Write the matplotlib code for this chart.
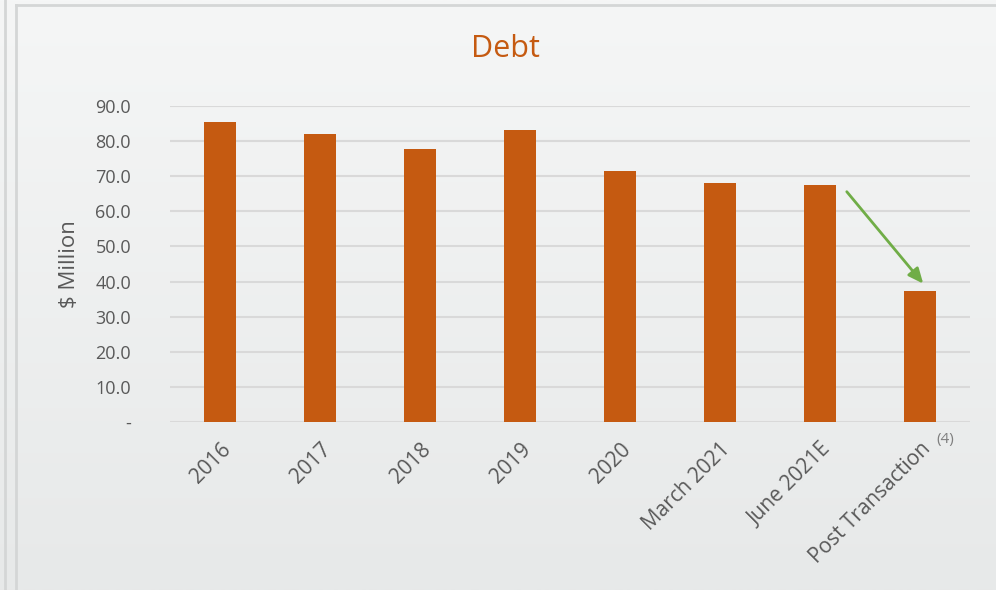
import numpy as np
import matplotlib.pyplot as plt
from matplotlib.lines import Line2D
from matplotlib.colors import LinearSegmentedColormap

categories = ['2016', '2017', '2018', '2019', '2020', 'March 2021', 'June 2021E', 'Post Transaction']
debt = [85.5, 82.0, 77.8, 83.2, 71.5, 68.1, 67.5, 37.3]
yticks = [0, 10, 20, 30, 40, 50, 60, 70, 80, 90]
ytick_labels = ['-'] + ['%.1f' % v for v in yticks[1:]]

plt.rcParams['font.family'] = ['Open Sans', 'DejaVu Sans']

fig = plt.figure(figsize=(9.96, 5.9), dpi=100)

# gradient background (lighter at top)
bg = fig.add_axes([0, 0, 1, 1], zorder=-10)
grad = np.linspace(0, 1, 256).reshape(-1, 1)
cmap = LinearSegmentedColormap.from_list('bg', ['#F5F6F6', '#E7E9E9'])
bg.imshow(grad, aspect='auto', cmap=cmap, extent=[0, 1, 0, 1], origin='upper')
bg.set_xlim(0, 1)
bg.set_ylim(0, 1)
bg.axis('off')

# frame lines
W, H = 996, 590
fig.add_artist(Line2D([5 / W, 5 / W], [0, 1], color='#D4D6D6', lw=2))
fig.add_artist(Line2D([16 / W, 16 / W], [0, 1 - 5 / H], color='#D4D6D6', lw=2))
fig.add_artist(Line2D([16 / W, 1], [1 - 5 / H, 1 - 5 / H], color='#D4D6D6', lw=2))

ax = fig.add_axes([170 / W, 1 - 422 / H, 800 / W, 316 / H])
ax.patch.set_alpha(0)

x = np.arange(len(categories))
ax.bar(x, debt, width=0.32, color='#C55A11', zorder=3)

ax.set_xlim(-0.5, len(categories) - 0.5)
ax.set_ylim(0, 90)
ax.set_yticks(yticks)
ax.set_yticklabels(ytick_labels)
ax.yaxis.grid(True, color='#D9D9D9', lw=1.5, zorder=0)
ax.tick_params(axis='y', length=0, labelsize=13, labelcolor='#595959', pad=28)
ax.tick_params(axis='x', length=0, labelsize=15, labelcolor='#595959', pad=12)
ax.set_xticks(x)
ax.set_xticklabels(categories, rotation=45, ha='right', rotation_mode='anchor')
for s in ax.spines.values():
    s.set_visible(False)

ax.set_ylabel('$ Million', fontsize=16, color='#595959')
ax.yaxis.set_label_coords(-0.112, 0.5)

fig.text(0.5 + 0.007, 1 - 49 / H, 'Debt', fontsize=22, color='#C55A11',
         ha='center', va='center')

ax.annotate('', xy=(7.05, 38.8), xytext=(6.25, 66.2),
            arrowprops=dict(arrowstyle='-|>,head_length=0.9,head_width=0.4',
                            color='#70AD47', lw=2), zorder=5)

fig.text(945 / W, 1 - 440 / H, '(4)', fontsize=11, color='#7F7F7F',
         ha='center', va='center')

fig.savefig('out.png', dpi=100)
